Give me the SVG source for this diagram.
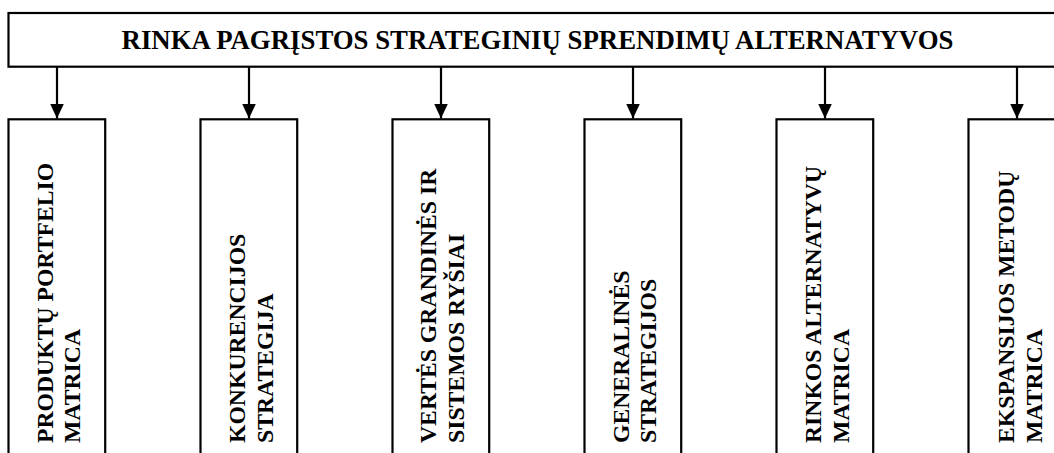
<svg xmlns="http://www.w3.org/2000/svg" width="1054" height="453" viewBox="0 0 1054 453">
  <style>
    .box { fill: #ffffff; stroke: #000000; stroke-width: 2.2; }
    .conn { stroke: #000000; stroke-width: 2.2; fill: none; }
    .title { font-family: "Liberation Serif", "Times New Roman", serif; font-weight: bold; font-size: 26.8px; fill: #000; }
    .lbl { font-family: "Liberation Serif", "Times New Roman", serif; font-weight: bold; font-size: 23.7px; fill: #000; }
  </style>
  <defs>
    <marker id="arrow" markerUnits="userSpaceOnUse" markerWidth="15" markerHeight="14" refX="15" refY="7" orient="auto">
      <path d="M0,0 L15,7 L0,14 z" fill="#000"/>
    </marker>
  </defs>
  <rect width="1054" height="453" fill="#ffffff"/>
  <g id="top">
    <rect class="box" x="8.5" y="13" width="1060" height="53.7"/>
    <text class="title" x="537.5" y="49" text-anchor="middle">RINKA PAGRĮSTOS STRATEGINIŲ SPRENDIMŲ ALTERNATYVOS</text>
  </g>
  <g id="connectors">
    <line class="conn" x1="57" y1="67" x2="57" y2="118.5" marker-end="url(#arrow)"/>
    <line class="conn" x1="249" y1="67" x2="249" y2="118.5" marker-end="url(#arrow)"/>
    <line class="conn" x1="441" y1="67" x2="441" y2="118.5" marker-end="url(#arrow)"/>
    <line class="conn" x1="633" y1="67" x2="633" y2="118.5" marker-end="url(#arrow)"/>
    <line class="conn" x1="825" y1="67" x2="825" y2="118.5" marker-end="url(#arrow)"/>
    <line class="conn" x1="1017" y1="67" x2="1017" y2="118.5" marker-end="url(#arrow)"/>
  </g>
  <g id="n1">
    <rect class="box" x="8.5" y="119.3" width="96.7" height="360"/>
    <text class="lbl" transform="translate(53,443) rotate(-90)">PRODUKTŲ PORTFELIO</text>
    <text class="lbl" transform="translate(80,443) rotate(-90)">MATRICA</text>
  </g>
  <g id="n2">
    <rect class="box" x="200.5" y="119.3" width="96.7" height="360"/>
    <text class="lbl" transform="translate(245,443) rotate(-90)">KONKURENCIJOS</text>
    <text class="lbl" transform="translate(273,443) rotate(-90)">STRATEGIJA</text>
  </g>
  <g id="n3">
    <rect class="box" x="392.5" y="119.3" width="96.7" height="360"/>
    <text class="lbl" transform="translate(436,443) rotate(-90)">VERTĖS GRANDINĖS IR</text>
    <text class="lbl" transform="translate(463.5,443) rotate(-90)">SISTEMOS RYŠIAI</text>
  </g>
  <g id="n4">
    <rect class="box" x="584.5" y="119.3" width="96.7" height="360"/>
    <text class="lbl" transform="translate(628.5,443) rotate(-90)">GENERALINĖS</text>
    <text class="lbl" transform="translate(656,443) rotate(-90)">STRATEGIJOS</text>
  </g>
  <g id="n5">
    <rect class="box" x="776.5" y="119.3" width="96.7" height="360"/>
    <text class="lbl" transform="translate(820.5,443) rotate(-90)">RINKOS ALTERNATYVŲ</text>
    <text class="lbl" transform="translate(848.5,443) rotate(-90)">MATRICA</text>
  </g>
  <g id="n6">
    <rect class="box" x="968.5" y="119.3" width="96.7" height="360"/>
    <text class="lbl" transform="translate(1013.5,443) rotate(-90)">EKSPANSIJOS METODŲ</text>
    <text class="lbl" transform="translate(1042,443) rotate(-90)">MATRICA</text>
  </g>
</svg>
